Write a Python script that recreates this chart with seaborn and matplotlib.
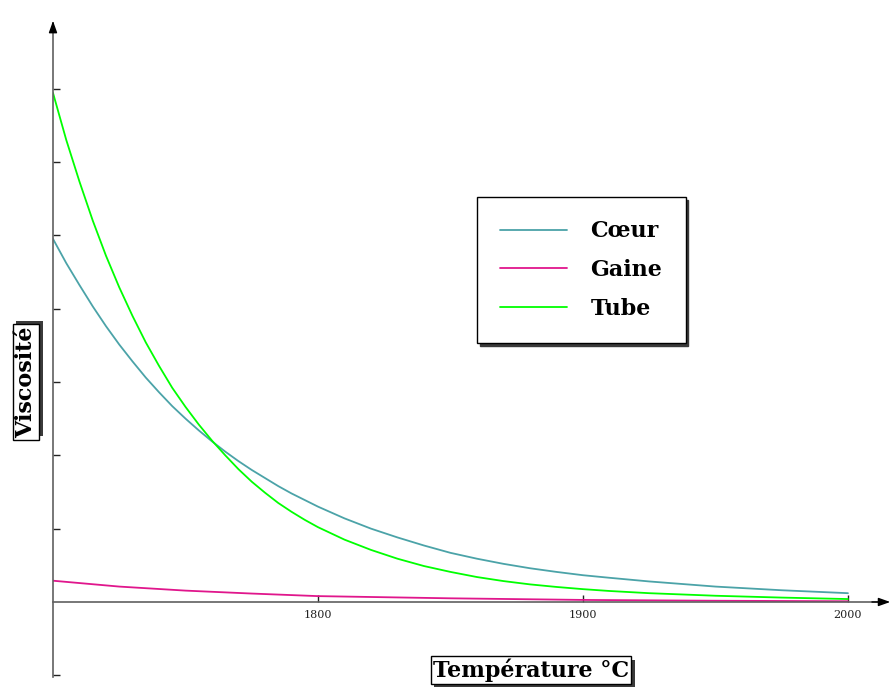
import pandas as pd
import matplotlib
matplotlib.use("Agg")
import matplotlib.pyplot as plt
import matplotlib.patheffects as pe
import seaborn as sns

# temperature grid (degC) and viscosity
temp_coeur = [1700, 1705, 1710, 1715, 1720, 1725, 1730, 1735, 1740, 1745, 1750, 1755, 1760,
              1765, 1770, 1775, 1780, 1785, 1790, 1795, 1800, 1810, 1820, 1830, 1840, 1850,
              1860, 1870, 1880, 1890, 1900, 1910, 1925, 1950, 1975, 2000]
visc_coeur = [4.95, 4.62, 4.32, 4.03, 3.76, 3.51, 3.28, 3.06, 2.86, 2.67, 2.50, 2.34, 2.19,
              2.05, 1.92, 1.80, 1.69, 1.58, 1.48, 1.39, 1.30, 1.14, 1.00, 0.88, 0.77, 0.67,
              0.59, 0.52, 0.46, 0.41, 0.365, 0.33, 0.28, 0.21, 0.16, 0.12]

temp_gaine = [1700, 1725, 1750, 1775, 1800, 1850, 1900, 1950, 2000]
visc_gaine = [0.29, 0.21, 0.155, 0.115, 0.08, 0.05, 0.028, 0.017, 0.01]

temp_tube = [1700, 1705, 1710, 1715, 1720, 1725, 1730, 1735, 1740, 1745, 1750, 1755, 1760,
             1765, 1770, 1775, 1780, 1785, 1790, 1795, 1800, 1810, 1820, 1830, 1840, 1850,
             1860, 1870, 1880, 1890, 1900, 1910, 1925, 1950, 1975, 2000]
visc_tube = [6.94, 6.30, 5.73, 5.20, 4.72, 4.29, 3.90, 3.54, 3.22, 2.92, 2.66, 2.42, 2.20,
             2.00, 1.81, 1.64, 1.49, 1.35, 1.23, 1.12, 1.02, 0.85, 0.71, 0.59, 0.49, 0.41,
             0.34, 0.285, 0.24, 0.205, 0.175, 0.15, 0.12, 0.085, 0.06, 0.04]

series = ["Cœur", "Gaine", "Tube"]
colors = {"Cœur": "#4ba3a8", "Gaine": "#e0168c", "Tube": "#00ff00"}
x_ticks = [1800, 1900, 2000]
y_ticks = [-1, 1, 2, 3, 4, 5, 6, 7]

df = pd.concat([
    pd.DataFrame({"T": temp_coeur, "v": visc_coeur, "mat": "Cœur"}),
    pd.DataFrame({"T": temp_gaine, "v": visc_gaine, "mat": "Gaine"}),
    pd.DataFrame({"T": temp_tube, "v": visc_tube, "mat": "Tube"}),
])

sns.set_style("white")
plt.rcParams["font.family"] = ["DejaVu Serif"]
plt.rcParams["text.color"] = "black"

fig = plt.figure(figsize=(8.93, 6.91), dpi=100)
ax = fig.add_axes([53 / 893, 1 - 679 / 691, 840 / 893, (679 - 15.2) / 691])

sns.lineplot(data=df, x="T", y="v", hue="mat", hue_order=series, palette=colors,
             linewidth=1.3, errorbar=None, ax=ax)

ax.set_xlim(1700, 2017)
ax.set_ylim(-1.05, 8.0)

for s in ["top", "right"]:
    ax.spines[s].set_visible(False)
ax.spines["left"].set_position(("data", 1700))
ax.spines["bottom"].set_position(("data", 0))
ax.spines["left"].set_bounds(-1.02, 7.9)
ax.spines["bottom"].set_bounds(1700, 2012)
for s in ["left", "bottom"]:
    ax.spines[s].set_color("#606060")
    ax.spines[s].set_linewidth(1.2)

arrow = dict(arrowstyle="-|>,head_length=0.7,head_width=0.25", color="black", lw=1.0)
ax.annotate("", xy=(2017, 0), xytext=(2008, 0), arrowprops=arrow, annotation_clip=False)
ax.annotate("", xy=(1700, 7.96), xytext=(1700, 7.8), arrowprops=arrow, annotation_clip=False)

ax.set_xticks(x_ticks)
ax.set_xticklabels([str(t) for t in x_ticks])
ax.set_yticks(y_ticks)
ax.set_yticklabels([])
ax.tick_params(axis="x", bottom=True, direction="in", length=5, width=1, color="#222222",
               labelsize=8, labelcolor="#222222", pad=6)
ax.tick_params(axis="y", left=True, direction="in", length=5, width=1, color="#222222")
ax.set_xlabel("")
ax.set_ylabel("")

label_font = dict(family="DejaVu Serif", weight="bold", size=16)
leg = ax.legend(loc="upper left", bbox_to_anchor=(477 / 893, 1 - 197 / 691),
                bbox_transform=fig.transFigure, borderaxespad=0, frameon=True,
                fancybox=False, prop=label_font, handlelength=3.0, handletextpad=1.05,
                labelspacing=0.75, borderpad=1.05,
                shadow={"color": "#3a3a3a", "alpha": 1.0})
leg.get_frame().set_edgecolor("black")
leg.get_frame().set_linewidth(1.0)
for line in leg.get_lines():
    line.set_linewidth(1.3)
for txt in leg.get_texts():
    txt.set_color("black")


def boxed_label(x, y, text, rotation, dx, dy):
    t = fig.text(x, y, text, rotation=rotation, ha="center", va="center", color="black",
                 bbox=dict(boxstyle="square,pad=0.1", fc="white", ec="black", lw=1.0),
                 **label_font)
    t.get_bbox_patch().set_path_effects([
        pe.SimplePatchShadow(offset=(dx, dy), shadow_rgbFace="#3a3a3a", alpha=1.0),
        pe.Normal(),
    ])


boxed_label(26 / 893, 1 - 382 / 691, "Viscosité", 90, 2.5, 2.5)
boxed_label(531 / 893, 1 - 670 / 691, "Température °C", 0, 2.5, -2.5)

fig.savefig("out.png", dpi=100)
